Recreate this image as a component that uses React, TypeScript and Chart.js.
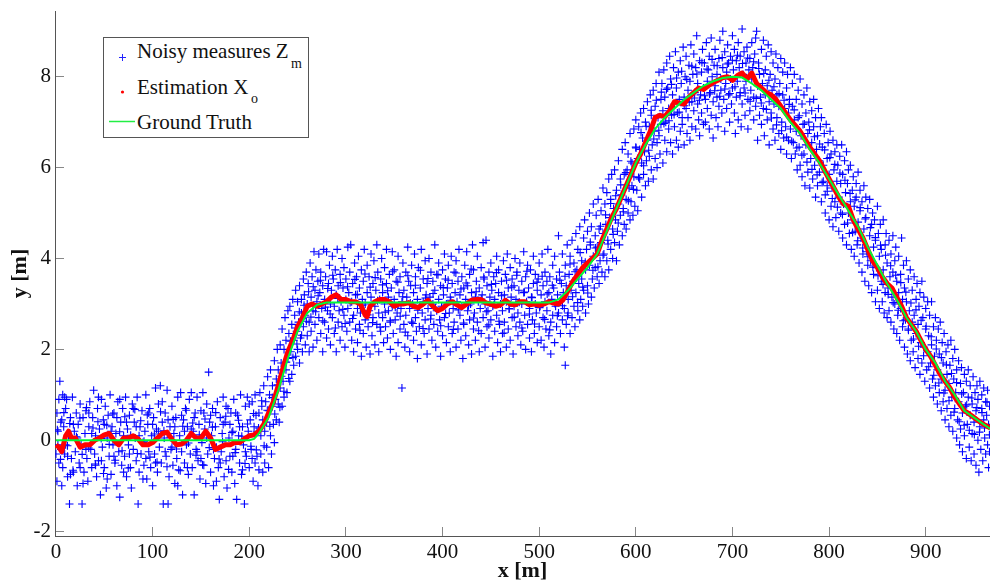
import React, { useEffect, useRef } from "react";
import { Chart, registerables } from "chart.js";

Chart.register(...registerables);

const xTicks = [0, 100, 200, 300, 400, 500, 600, 700, 800, 900];
const yTicks = [-2, 0, 2, 4, 6, 8];

const truthX = [0, 200, 205, 210, 220, 230, 240, 250, 260, 270, 280, 300, 400, 510, 520, 530, 540, 550, 560, 570, 580, 590, 600, 610, 620, 630, 640, 650, 660, 670, 680, 690, 700, 710, 720, 730, 740, 750, 760, 770, 780, 790, 800, 810, 820, 830, 840, 850, 860, 870, 880, 890, 900, 910, 920, 930, 940, 950, 960, 967];
const truthY = [0, 0, 0.03, 0.15, 0.5, 1.1, 1.8, 2.4, 2.8, 2.98, 3.03, 3.03, 3.03, 3.03, 3.1, 3.3, 3.55, 3.8, 4.1, 4.6, 5.1, 5.6, 6.1, 6.5, 6.85, 7.1, 7.3, 7.5, 7.65, 7.8, 7.9, 7.97, 8, 7.98, 7.85, 7.7, 7.5, 7.3, 7, 6.75, 6.4, 6.1, 5.75, 5.4, 5.05, 4.7, 4.25, 3.85, 3.45, 3.1, 2.7, 2.4, 2, 1.7, 1.3, 1, 0.65, 0.5, 0.35, 0.25];

// Estimation track as x,y pairs.
const estimatePairs = [0,-.1,3,-.15,6,-.25,10,.1,13,.2,16,.05,20,.05,25,-.15,30,-.1,35,-.1,40,0,45,.05,50,.12,55,.15,60,0,65,-.1,70,.05,75,.05,80,.1,85,.03,90,-.1,95,-.1,100,-.05,105,.05,110,.15,115,.18,120,.02,125,-.1,130,-.08,135,0,140,.15,145,.05,150,.05,155,.2,160,.05,165,-.2,170,-.15,175,-.1,180,-.1,185,-.05,190,-.05,195,.03,200,.1,205,.12,210,.2,215,.35,220,.6,225,.85,230,1.2,235,1.6,240,1.95,245,2.2,250,2.5,255,2.7,260,2.95,265,3,270,2.95,275,3,280,3.05,285,3.15,290,3.2,295,3.1,300,3.1,305,3.05,310,3.05,315,3,320,2.75,322,2.72,325,2.95,330,3.05,335,3.1,340,3.1,345,3.05,350,2.95,355,3,360,3,365,3.03,370,2.95,375,2.92,380,3,385,3.08,390,2.95,395,2.85,400,2.9,405,3,410,3.05,415,2.98,420,2.92,425,3,430,3.08,435,3.1,440,3.1,445,3.02,450,3,455,2.95,460,2.98,465,3.08,470,3,475,2.98,480,3.05,485,3.05,490,2.98,495,3,500,2.97,505,3,510,3.05,515,3.02,520,3,525,3.1,530,3.3,535,3.5,540,3.65,545,3.8,550,3.9,555,4,560,4.1,565,4.4,570,4.65,575,4.9,580,5.1,585,5.35,590,5.6,595,5.85,600,6.1,605,6.3,610,6.55,615,6.8,620,7.1,625,7.15,630,7.12,635,7.25,640,7.45,645,7.42,650,7.4,655,7.55,660,7.65,665,7.75,670,7.72,675,7.8,680,7.87,685,7.92,690,7.98,695,8,700,7.92,705,8.02,710,8.08,715,7.95,720,8.08,725,7.85,730,7.75,735,7.65,740,7.6,745,7.5,750,7.35,755,7.2,760,7.05,770,6.8,780,6.45,790,6.15,800,5.75,805,5.55,810,5.35,815,5.2,820,5.15,825,4.85,830,4.65,835,4.45,840,4.2,845,3.95,850,3.8,855,3.6,860,3.45,865,3.35,870,3.15,875,2.95,880,2.7,885,2.55,890,2.4,895,2.2,900,2,905,1.85,910,1.65,915,1.45,920,1.3,925,1.15,930,.95,935,.8,940,.65,945,.58,950,.5,955,.42,960,.35,967,.27];

const measuresFlatStart = [0,-.3,1,.6,1,-.9,2,.2,3,-.5,3,.9,4,1.3,5,-.2,5,.4,6,-1,7,1,7,-.6,8,.3,9,-.3,10,.7,10,-.1,11,.9,12,-.8,13,.1,14,-1.4,15,.5,16,-.4,17,.95,18,-.7,19,.2,20,-.25,21,.6,22,-1,23,.35,24,-.5,25,.8,26,-.1,27,-1.4,28,.5,29,-.7,30,.15,31,.65,32,-.4,33,-.9,34,.3,35,.85,36,-.2,37,-.6,38,.5,39,1.1,40,-.3,41,.1,42,-.8,43,.7,44,-.45,45,.25,46,-1.2,47,.9,48,-.15,49,.45,50,-.6,51,.75,52,-1.05,53,.05,54,.55,55,-.35,56,1,57,-.75,58,.3,59,-.1,60,.6,61,-.5,62,.15,63,-1,64,.85,65,-.25,66,-1.25,67,.4,68,-.55,69,.7,70,.1,71,-.35,72,.95,73,-.8,74,.25,75,-.1,76,.55,77,-.6,78,-1.05,79,.8,80,-.2,81,.4,82,.05,83,-.45,84,.95,85,-1.4,86,-.7,87,.3,88,-.3,89,.65,90,-.05,91,-.55,92,.2,93,1,94,-.85,95,.35,96,-.25,97,.7,98,-.6,99,.1,100,-1,101,.5,102,-.3,103,1.15,104,.25,105,-.7,106,.8,107,-.15,108,1.2,109,-.5,110,.4,111,-1.4,112,.05,113,.6,114,-.35,115,1.1,116,-1.4,117,-.8,118,.3,119,-.2,120,.75,121,-.55,122,.15,123,-.95,124,.5,125,-.4,126,.95,127,-.65,128,.1,129,1.05,130,-.25,131,-1.2,132,.45,133,-.5,134,.7,135,-.1,136,.3,137,-.75,138,.9,139,-.3,140,1.05,141,-.6,142,.2,143,-1.2,144,.6,145,-.2,146,.95,147,-.45,148,.35,149,-.85,150,.65,151,-.05,152,1.05,153,-.55,154,.25,155,-.95,156,.8,157,-.3,158,1.5,159,.4,160,-.7,161,.1,162,.7,163,-1,164,-.4,165,.3,166,-.15,167,.85,168,-.6,169,-1.3,170,.5,171,-.25,172,.15,173,.95,174,-.8,175,.4,176,-.45,177,-1.05,178,.7,179,.05,180,-.35,181,.6,182,-.7,183,.2,184,.9,185,-.95,186,-.2,187,-1.3,188,.55,189,.1,190,-.5,191,1,192,-.75,193,.3,194,-.1,195,-1.4,196,.75,197,-.35,198,.95,199,.2,200,-.6,201,.45,202,-.2,203,.85,204,-.9,205,.3,
  2,-.1,6,.45,9,.95,12,-.35,15,-.75,18,.35,22,.05,25,-.6,28,-.95,31,-.2,34,.6,37,.15,41,-.55,44,.95,47,-.45,50,.35,53,-.85,57,.2,60,-.35,63,.5,66,.9,70,-.7,73,.4,76,-.3,80,.7,83,.3,86,.1,90,-.85,93,-.4,96,.6,100,.35,103,-.5,106,.2,110,.85,113,-.25,116,.45,120,-.15,123,.3,126,-1,130,.55,133,.2,136,-.6,140,.25,143,.5,146,-.25,150,-.4,153,.6,156,.05,160,.55,163,-.2,166,-.9,170,-.5,173,.35,176,.75,180,.35,183,-.35,186,.6,190,.3,193,-.65,196,-.25,200,.8,203,-.4];

const measuresFirstRise = [206,-.5,206,1,207,.55,208,-.35,208,.2,209,-1,210,.6,210,-.65,211,1.05,212,.1,212,-.3,213,.75,214,-.7,214,.45,215,1.2,216,.2,216,-.5,217,.85,218,.4,218,-.15,219,1.4,220,.65,220,-.6,221,1,222,.1,222,1.55,223,-.3,224,.75,224,1.2,225,.35,226,1.75,226,-.05,227,.9,228,1.35,228,.45,229,2,230,.8,230,1.55,231,.4,232,1.15,232,2.1,233,1.7,234,.75,234,2.45,235,1.3,236,2,236,.95,237,2.7,238,1.55,238,2.2,239,1.05,240,2.85,240,1.8,241,2.35,242,1.3,242,2.95,243,1.95,244,2.55,244,1.45,245,3.1,246,2.2,246,1.65,247,2.75,248,3.3,248,1.85,249,2.4,250,3.05,250,2,251,2.6,252,3.4,252,1.7,253,2.25,254,3.1,254,2.8,255,1.95,256,3.55,256,2.5,257,3.2,258,2.1,258,2.75,259,3.7,260,3,260,2.3,261,3.45,262,1.95,262,2.6,263,3.9,264,3.15,264,2.4,265,3.6,266,2.85,266,2.05];

const measuresFlatMiddle = [267,4.15,268,3.3,268,2.55,269,3.75,270,2.2,270,3.05,271,3.5,272,2.7,272,4.1,273,3.25,274,2.35,274,3.7,275,2.9,276,3.4,276,1.95,277,4.2,278,2.6,278,3.1,279,3.6,280,2.25,280,4.15,281,2.85,282,3.45,282,2.45,283,3.85,284,3,284,2.1,285,3.3,286,4.05,286,2.7,287,3.55,288,2.35,288,2.95,289,3.75,290,1.95,290,3.2,291,4.2,292,2.6,292,3.4,293,2.85,294,3.65,294,2.2,295,3.05,296,4,296,2.5,297,3.35,298,2.75,298,3.8,299,2.05,300,3.1,300,3.55,301,2.4,302,4.25,302,2.9,303,3.25,304,2.6,304,3.7,305,4.3,306,2.2,306,3.05,307,3.45,308,2.75,308,1.95,309,3.9,310,2.45,310,3.2,311,3.6,312,2.9,312,2.15,313,4.05,314,3.35,314,2.55,315,2.8,316,3.75,316,1.85,317,3.1,318,2.35,318,3.5,319,4.2,320,2.65,320,3,321,2.05,322,3.85,322,3.25,323,2.5,324,3.6,324,2.85,325,1.9,326,4.1,326,3.15,327,2.3,328,3.45,328,2.7,329,3.95,330,2.95,330,2.1,331,3.3,332,4.3,332,2.55,333,3.7,334,2.8,334,1.95,335,3.1,336,3.55,336,2.4,337,4,338,2.7,338,3.25,339,2.15,340,3.8,340,3,341,2.5,342,3.45,342,4.2,343,2.25,344,3.15,344,2.85,345,3.65,346,2,346,2.6,347,3.35,348,4.15,348,2.95,349,2.35,350,3.75,350,3.1,351,2.65,352,1.85,352,3.5,353,2.8,354,4.05,354,2.15,355,3.25,356,3.6,356,2.45,357,2.9,358,1.15,358,3.05,359,3.9,360,2.55,360,3.3,361,2.05,362,3.7,362,2.75,363,3.15,364,4.25,364,2.3,365,3.5,366,2.9,366,1.95,367,3.4,368,2.6,368,3.85,369,3,370,2.2,370,3.25,371,4.1,372,2.7,372,3.6,373,2.4,374,3.1,374,1.8,375,3.8,376,2.95,376,2.5,377,3.35,378,4.2,378,2.1,379,2.8,380,3.55,380,3.05,381,2.35,382,3.95,382,2.65,383,3.2,384,1.9,384,3.45,385,2.9,386,4,386,2.45,387,3.15,388,3.7,388,2.75,389,2.2,390,3,390,3.5,391,2.55,392,4.3,392,3.3,393,2.05,394,2.85,394,3.65,395,2.4,396,3.1,396,3.9,397,2.65,398,1.85,398,3.4,399,2.95,400,3.75,400,2.3,401,3.2,402,4.1,402,2.7,403,3.55,404,2.15,404,3,405,3.35,406,2.5,406,3.85,407,2.8,408,1.95,408,3.15,409,4.05,410,3.45,410,2.35,411,2.9,412,3.7,412,2.6,413,3.25,414,2.05,414,3.95,415,3.05,416,2.45,416,3.5,417,4.2,418,2.75,418,3.2,419,2.2,420,3.6,420,2.95,421,1.8,422,3.35,422,2.55,423,3.85,424,3.1,424,2.3,425,4.15,426,2.85,426,3.4,427,2.1,428,3.65,428,2.65,429,3,430,1.9,430,3.25,431,4.3,432,2.45,432,3.75,433,2.8,434,3.15,434,2.2,435,3.5,436,4.05,436,2.6,437,3.05,438,1.95,438,3.35,439,2.9,440,3.8,440,2.35,441,3.2,442,4.35,442,2.7,443,3.55,444,2.05,444,3,445,4.4,446,3.4,446,2.5,447,2.85,448,3.7,448,2.25,449,3.15,450,3.9,450,2.65,451,3.3,452,1.85,452,2.95,453,3.6,454,2.4,454,3.1,455,3.45,456,2.75,456,4.05,457,2.15,458,3.25,458,3.75,459,2.55,460,3,460,1.95,461,3.5,462,2.85,462,2.35,463,3.95,464,3.2,464,2.6,465,3.65,466,2.05,466,3.05,467,4.1,468,2.45,468,3.35,469,2.9,470,3.8,470,2.2,471,3.15,472,2.7,472,3.55,473,1.9,474,3.4,474,2.95,475,4,476,2.5,476,3.1,477,3.7,478,2.3,478,2.8,479,3.3,480,3.9,480,2.6,481,2.1,482,3.5,482,3,483,2.4,484,3.25,484,4.15,485,2.75,486,3.6,486,2,487,3.05,488,2.55,488,3.85,489,3.35,490,2.25,490,2.9,491,3.75,492,3.15,492,1.95,493,2.65,494,3.45,494,4.05,495,2.35,496,3,496,3.65,497,2.8,498,2.15,498,3.3,499,3.55,500,2.5,500,3.9,501,2.95,502,2.2,502,3.2,503,4.1,504,2.7,504,3.4,505,2.05,506,3.7,506,3.05,507,2.45,508,3.5,508,2.85,509,4.2,510,2.3,510,3.25,511,3.6,512,2.6,512,1.9,513,3.1,514,3.85,514,2.75,515,3.35,516,2.15,516,4.05,517,2.95,518,3.55,518,2.5,519,3.2,520,4.5,520,2.8];

const measuresSecondRise = [521,3.7,522,2.35,522,3.05,523,3.45,524,2.65,524,4.1,525,3.25,526,2.05,526,2.9,527,1.65,527,3.85,528,3.4,528,2.55,529,4.3,530,3.1,530,2.8,531,3.65,532,2.35,532,4.05,533,3.3,534,2.7,534,4.4,535,3.5,536,2.95,536,3.9,537,2.5,538,4.55,538,3.25,539,3.75,540,2.85,540,4.2,541,3.45,542,2.65,542,4.7,543,3.1,544,3.95,544,3.55,545,2.95,546,4.45,546,3.3,547,4.85,548,3.75,548,2.8,549,4.2,550,3.4,550,4.6,551,3,552,5,552,3.85,553,4.3,554,3.15,554,4.7,555,3.55,556,4.05,556,5.2,557,3.35,558,4.5,558,3.8,559,4.95,560,3.6,560,4.25,561,5.3,562,3.45,562,4.65,563,3.95,564,5.05,564,4.35,565,3.7,566,5.55,566,4.55,567,4.1,568,3.6,568,5.2,569,4.75,570,3.95,570,5.45,571,4.4,572,5.75,572,3.75,573,4.9,574,4.2,574,5.3,575,5.85,576,4,576,4.65,577,5.1,578,4.35,578,5.95,579,4.85,580,3.95,580,5.5,581,4.6,582,6.15,582,5.2,583,4.3,584,5.75,584,4.95,585,5.4,586,6.4,586,4.5,587,5.1,588,5.85,588,4.75,589,6.55,590,5.3,590,4.65,591,5.95,592,5,592,6.3,593,5.55,594,4.85,594,6.75,595,5.25,596,6.1,596,5.6,597,4.95,598,6.85,598,5.8,599,5.15,600,6.45,600,7.05,601,5.5,602,6.2,602,5.05,603,6.9,604,5.75,604,6.4,605,7.2,606,5.35,606,6.1,607,6.65,608,5.85,608,7.3,609,6.35,610,5.6,610,7,611,6.15,612,7.45,612,6.6,613,5.7,614,6.9,614,6.25,615,7.6,616,5.95,616,7.15,617,6.5,618,5.75,618,7.7,619,6.8,620,6.2,620,7.35,621,7.85,622,6.55,622,6,623,7.1,624,8.1,624,6.7,625,6.3,626,7.5,626,6.95,627,7.85,628,6.1,628,7.25,629,8.15,630,6.6,630,7.55,631,7,632,8.3,632,6.35,633,7.75,634,6.85,634,7.3,635,8.45,636,6.55,636,7.95,637,7.15,638,7.6,638,6.3,639,8.2,640,6.9,640,7.4,641,8.55,642,6.6,642,7.75,643,7.2,644,8.1,644,6.45,645,7.5,646,8.35,646,6.8,647,7.85,648,7.1,648,6.95,649,8.65,650,7.55,650,6.5,651,8,652,7.3,652,8.45,653,6.75,654,7.7,654,7.1,655,8.25,656,6.6,656,7.9,657,8.7,658,7.45,658,6.9,659,8.05,660,7.25,660,8.5,661,7.65,662,6.85,662,8.2,663,8.9,664,7.4,664,7.85,665,7.05,666,8.35,666,6.7,667,7.6,668,8.1,668,7.2,669,8.6,670,7.75,670,6.95,671,8.3,672,7.5,672,7,673,8.75,674,7.9,674,7.3,675,8.15,676,6.85,676,8.45,677,7.65,678,8.85,678,7.15,679,8,680,7.45,680,6.65,681,8.25,682,7.8,682,8.6,683,7.1,684,7.55,684,8.05,685,6.9,686,8.4,686,7.35,687,8.8,688,7.7,688,7.95,689,7.2,690,9,690,8.2,691,7.5,692,8.55,692,6.8,693,7.85,694,8.1,694,7.3,695,8.7,696,7.6,696,8.3,697,7,698,7.95,698,8.45,699,7.4,700,8.9,700,7.75,701,8.15,702,7.2,702,8.6,703,6.75,704,8.35,704,7.55,705,7.9,706,8.75,706,7.05,707,8.2,708,7.65,708,8.45,709,6.9,710,9.05,710,7.4,711,8.05,712,8.55,712,7.75,713,7.15,714,8.3,714,7.9,715,8.65,716,7.5,716,6.85,717,8.15,718,7.25,718,8.4,719,7.7,720,8.75,720,7.95];

const measuresFall = [721,8.2,722,7.05,722,7.55,723,8.5,724,7.35,724,8.85,725,9,726,7.8,726,6.6,727,8.3,728,7.15,728,8.05,729,7.55,730,8.6,730,6.95,731,7.85,732,8.8,732,7.3,733,6.7,734,8.15,734,7.6,735,8.45,736,7.05,736,7.8,737,8.7,738,6.5,738,7.45,739,8.05,740,7.2,740,8.55,741,7.7,742,6.85,742,8.3,743,7.4,744,7.95,744,6.6,745,8.5,746,7.1,746,7.6,747,8.2,748,6.75,748,7.35,749,7.85,750,6.4,750,8.4,751,7,752,7.6,752,8.1,753,6.65,754,7.3,754,8.3,755,6.9,756,7.75,756,6.3,757,8.05,758,7.2,758,6.6,759,7.5,760,8.2,760,6.85,761,6.2,762,7.35,762,7.85,763,6.55,764,7.05,764,8.05,765,6.3,766,7.5,766,6.8,767,5.95,768,7.7,768,7.1,769,6.45,770,7.95,770,6.05,771,6.7,772,7.4,772,5.8,773,6.95,774,7.6,774,6.3,775,5.6,776,7.2,776,6.5,777,7.75,778,5.9,778,6.75,779,7,780,7.45,780,5.55,781,6.2,782,7.25,782,6.55,783,5.75,784,6.9,784,7.5,785,6.05,786,5.35,786,7.1,787,6.4,788,6.7,788,5.6,789,7.3,790,5.9,790,6.15,791,6.9,792,5.25,792,7.1,793,6.45,794,5.7,794,6.05,795,6.75,796,5,796,5.4,797,6.95,798,6.2,798,5.6,799,6.55,800,4.85,800,5.85,801,6.8,802,5.15,802,6.3,803,5.55,804,6.6,804,4.7,805,5.95,806,6.35,806,5.25,807,4.9,808,6.5,808,5.7,809,6.05,810,4.6,810,5.35,811,6.25,812,5,812,5.65,813,6.5,814,4.45,814,5.85,815,5.2,816,6.15,816,4.75,817,5.45,818,6.35,818,4.3,819,5.65,820,5,820,5.95,821,4.55,822,6.05,822,5.25,823,4.2,824,5.5,824,4.85,825,5.8,826,4.05,826,5.15,827,4.6,828,5.65,828,5.35,829,4.3,830,5.9,830,4.8,831,3.9,832,5.05,832,5.5,833,4.45,834,3.7,834,5.25,835,4.1,836,5.6,836,4.65,837,3.5,838,4.9,838,5.35,839,4.15,840,3.85,840,5.1,841,3.4,842,4.5,842,5.3,843,3.95,844,4.75,844,3.25,845,5,846,4.25,846,3.65,847,4.85,848,3.05,848,4.4,849,3.8,850,5.15,850,3.3,851,4.55,852,4.05,852,2.9,853,4.75,854,3.5,854,4.2,855,3.05,856,4.85,856,3.75,857,2.8,858,4.3,858,3.25,859,4.55,860,2.7,860,3.9,861,3.35,862,4.4,862,2.85,863,3.6,864,4.1,864,2.6,865,3.15,866,4.5,866,3.7,867,2.45,868,3.95,868,3,869,4.25,870,2.35,870,3.5,871,2.75,872,4.05,872,3.25,873,2.2,874,3.65,874,2.9,875,4.45,876,2.5,876,3.1,877,3.85,878,2.05,878,3.35,879,2.65,880,3.95,880,3.05,881,1.9,882,2.45,882,3.55,883,2.85,884,3.75,884,1.75,885,2.2,886,3.3,886,2.6,887,1.95,888,3.6,888,2.75,889,1.6,890,3.1,890,2.35,891,3.45,892,1.8,892,2.55,893,2.95,894,1.45,894,3.25,895,2.15,896,3.5,896,1.7,897,2.7,898,2.05,898,3.15,899,1.3,900,2.45,900,2.9,901,1.55,902,3.05,902,1.95,903,2.3,904,1.15,904,2.75,905,1.7,906,3.05,906,2.1,907,1.35,908,2.5,908,.95,909,1.85,910,2.7,910,1.2,911,2.2,912,.8,912,1.55,913,2.45,914,1.05,914,1.9,915,2.6,916,.65,916,1.35,917,2.15,918,1.7,918,.85,919,2.35,920,1.1,920,.45,921,1.95,922,1.45,922,.7,923,2.1,924,.3,924,1.25,925,1.65,926,2.2,926,.55,927,.95,928,1.8,928,.2,929,1.35,930,.7,930,2,931,1.05,932,.05,932,1.55,933,.45,934,1.75,934,.85,935,-.1,936,1.25,936,.25,937,1.6,938,.6,938,-.25,939,1.05,940,1.45,940,.1,941,.75,942,-.4,942,1.3,943,.35,944,.95,944,1.55,945,-.15,946,.55,946,1.2,947,-.45,948,.8,948,.15,949,1.4,950,-.3,950,.4,951,1.05,952,-.55,952,.65,953,1.2,954,0,954,.9,955,-.7,956,.3,956,1.3,957,-.2,958,.7,958,1,959,-.45,960,.45,960,1.15,961,.05,962,.85,962,-.3,963,.55,964,1.1,964,-.1,965,-.6,965,.35,966,.75,966,-.25];

// Extra measures around the track, where the cloud is densest.
const measuresCoreFlat = [1.4,.23,4.7,-.42,8.2,.61,11.9,-.12,14.3,.37,17.6,-.66,21.2,.08,24.8,.49,27.1,-.31,31.6,.72,33.9,-.17,38.3,.27,40.7,-.52,43.4,.41,46.8,.04,49.2,-.73,52.6,.33,55.1,-.09,58.7,.58,61.3,-.44,65.9,.19,68.4,-.23,71.2,.52,74.8,-.61,77.3,.11,81.6,.68,84.2,-.29,87.7,.43,91.1,-.02,94.5,.56,97.3,-.37,101.8,.14,104.6,-.48,108.2,.63,111.7,.21,114.9,-.58,118.4,.07,121.3,.46,124.7,-.19,128.6,-.67,131.2,.31,134.8,.66,137.1,-.06,141.5,.38,144.9,-.33,148.3,.12,151.7,-.54,154.2,.47,158.6,-.16,161.9,.29,165.3,.61,168.8,-.41,172.4,-.03,175.7,.53,178.6,-.64,182.1,.17,185.4,-.27,188.9,.44,192.3,.09,195.6,-.51,198.2,.36,201.7,-.13,204.5,.59,207.3,-.21,209.6,.27,212.8,.87,215.4,-.12,218.7,.66,221.3,.31,223.8,.94,226.4,.58,229.2,1.22,231.7,.73,233.4,1.41,235.9,1.08,238.3,1.72,240.8,1.36,242.6,2.18,245.2,1.82,247.7,2.47,249.3,2.12,251.8,2.83,254.2,2.31,256.7,2.97,259.1,2.62,261.4,3.27,263.8,2.71,266.2,3.38,268.7,2.83,271.3,3.18,273.6,3.52,276.1,2.63,278.8,2.93,281.2,3.34,283.7,2.78,286.4,3.63,289.1,2.47,291.6,3.12,294.3,3.47,296.8,2.88,299.2,2.57,301.7,3.38,304.4,3.03,306.9,2.68,309.3,3.54,311.8,3.21,314.6,2.42,317.2,2.97,319.7,3.66,322.4,2.76,325.1,3.37,327.6,2.59,330.3,3.58,332.8,3.07,335.4,2.49,337.9,3.42,340.7,2.82,343.2,3.29,345.8,2.63,348.4,3.71,351.1,2.93,353.7,3.48,356.2,2.73,358.8,3.16,361.4,2.38,364.1,3.62,366.7,3.02,369.3,2.57,371.9,3.41,374.4,2.86,377.1,3.74,379.8,2.46,382.3,3.13,384.9,3.56,387.6,2.67,390.2,3.23,392.7,2.91,395.3,3.64,398.1,2.52,400.7,3.36,403.2,2.79,405.8,3.52,408.6,3.08,411.2,2.44,413.8,3.68,416.3,2.87,419.1,3.33,421.7,2.58,424.4,3.46,426.9,2.96,429.6,3.77,432.2,2.69,434.8,3.27,437.4,2.41,440.1,3.11,442.7,3.59,445.3,2.83,447.9,2.54,450.6,3.43,453.2,2.98,455.8,3.69,458.4,2.62,461.1,3.18,463.7,2.36,466.3,3.52,468.9,2.89,471.6,3.37,474.2,2.71,476.8,3.63,479.4,3.04,482.1,2.47,484.7,3.26,487.3,3.72,489.9,2.78,492.6,3.14,495.2,2.56,497.8,3.48,500.4,2.92,503.1,3.61,505.7,2.66,508.3,3.22,510.9,2.43,513.6,3.41,516.2,3.01,518.8,2.74];

const measuresCoreRise = [521.4,3.52,524.1,2.96,526.7,3.61,529.3,2.74,531.9,3.88,534.6,3.16,537.2,3.71,539.8,3.03,542.4,4.13,545.1,3.37,547.7,3.92,550.3,3.24,552.9,4.36,555.6,3.74,558.2,4.23,560.8,3.82,563.4,4.71,566.1,4.07,568.7,4.96,571.3,4.32,573.9,5.21,576.6,4.53,579.2,5.38,581.8,4.78,584.4,5.62,587.1,5.03,589.7,5.89,592.3,5.27,594.9,6.14,597.6,5.52,600.2,6.43,602.8,5.78,605.4,6.77,608.1,6.04,610.7,6.91,613.3,6.38,615.9,7.26,618.6,6.63,621.2,7.48,623.8,6.82,626.4,7.66,629.1,6.97,631.7,7.72,634.3,7.03,636.9,7.83,639.6,7.17,642.2,7.97,644.8,7.22,647.4,8.12,650.1,7.36,652.7,7.94,655.3,7.44,657.9,8.23,660.6,7.53,663.2,8.06,665.8,7.48,668.4,8.31,671.1,7.58,673.7,8.17,676.3,7.62,678.9,8.38,681.6,7.69,684.2,8.24,686.8,7.57,689.4,8.42,692.1,7.73,694.7,8.28,697.3,7.63,699.9,8.36,702.6,7.78,705.2,8.47,707.8,7.58,710.4,8.29,713.1,7.64,715.7,8.41,718.3,7.46];

const measuresCoreFall = [721.9,8.33,724.6,7.52,727.2,8.18,729.8,7.42,732.4,8.07,735.1,7.28,737.7,7.92,740.3,7.09,742.9,7.78,745.6,6.94,748.2,7.63,750.8,6.81,753.4,7.48,756.1,6.67,758.7,7.39,761.3,6.58,763.9,7.27,766.6,6.43,769.2,7.14,771.8,6.27,774.4,6.96,777.1,6.12,779.7,6.83,782.3,5.96,784.9,6.68,787.6,5.84,790.2,6.52,792.8,5.67,795.4,6.39,798.1,5.48,800.7,6.22,803.3,5.32,805.9,6.07,808.6,5.13,811.2,5.88,813.8,4.97,816.4,5.72,819.1,4.78,821.7,5.43,824.3,4.57,826.9,5.29,829.6,4.39,832.2,5.12,834.8,4.23,837.4,4.87,840.1,4.04,842.7,4.68,845.3,3.81,847.9,4.46,850.6,3.62,853.2,4.29,855.8,3.43,858.4,4.07,861.1,3.21,863.7,3.84,866.3,3.03,868.9,3.63,871.6,2.86,874.2,3.47,876.8,2.63,879.4,3.26,882.1,2.42,884.7,3.02,887.3,2.23,889.9,2.87,892.6,2.07,895.2,2.64,897.8,1.86,900.4,2.51,903.1,1.62,905.7,2.28,908.3,1.43,910.9,2.01,913.6,1.26,916.2,1.82,918.8,1.04,921.4,1.66,924.1,.87,926.7,1.47,929.3,.62,931.9,1.27,934.6,.41,937.2,1.02,939.8,.33,942.4,.78,945.1,.22,947.7,.93,950.3,.13,952.9,.72,955.6,.18,958.2,.61,960.8,.27,963.4,.84,965.9,.12];

const toPoints = (list: number[]) => list.flatMap((v, i) => (i % 2 === 0 ? [{ x: v, y: list[i + 1] }] : []));
const noisyMeasures = [measuresFlatStart, measuresFirstRise, measuresFlatMiddle, measuresSecondRise, measuresFall, measuresCoreFlat, measuresCoreRise, measuresCoreFall].flatMap(toPoints);

const pairUp = (xs: number[], ys: number[]) => xs.map((x, i) => ({ x, y: ys[i] }));

const serif = "'Liberation Serif', 'Times New Roman', serif";
const inkColor = "#111111";

const legendText = (text: string, left: number, baseline: number, size: number) => (
  <span style={{ position: "absolute", left, top: baseline - size * 0.966, fontSize: size, lineHeight: 1.15, whiteSpace: "nowrap", color: inkColor, fontFamily: serif }}>{text}</span>
);

export default function App() {
  const ref = useRef<HTMLCanvasElement>(null);
  useEffect(() => {
    const chart = new Chart(ref.current!, {
      type: "scatter",
      data: {
        datasets: [
          { label: "Ground Truth", data: pairUp(truthX, truthY), showLine: true, borderColor: "#00f838", borderWidth: 2, pointRadius: 0, order: 0 },
          { label: "Estimation", data: toPoints(estimatePairs), showLine: true, borderColor: "#ff0000", borderWidth: 5, pointRadius: 0, borderJoinStyle: "round", order: 1 },
          { label: "Noisy measures", data: noisyMeasures, pointStyle: "cross", pointRadius: 4, pointBorderWidth: 1.1, pointBorderColor: "#0000ff", pointBackgroundColor: "#0000ff", order: 2 },
        ],
      } as any,
      options: {
        responsive: false,
        animation: false,
        layout: { autoPadding: false, padding: { top: 11, left: 0, right: 0, bottom: 0 } },
        plugins: { legend: { display: false }, tooltip: { enabled: false } },
        scales: {
          x: {
            type: "linear",
            min: -1,
            max: 966.5,
            afterBuildTicks: (s: any) => { s.ticks = xTicks.map((value) => ({ value })); },
            afterFit: (s: any) => { s.height = 49; s.paddingLeft = 0; s.paddingRight = 0; },
            grid: { drawOnChartArea: false, tickLength: -9, tickColor: "#888888", tickWidth: 1 },
            border: { color: "#555555", width: 1 },
            ticks: { color: inkColor, padding: 13, maxRotation: 0, font: { family: serif, size: 21 } },
            title: { display: true, text: "x [m]", color: inkColor, padding: 0, font: { family: serif, size: 22, weight: "bold" } },
          },
          y: {
            type: "linear",
            min: -2.105,
            max: 9.445,
            afterBuildTicks: (s: any) => { s.ticks = yTicks.map((value) => ({ value })); },
            afterFit: (s: any) => { s.width = 55; s.paddingTop = 0; s.paddingBottom = 0; },
            grid: { drawOnChartArea: false, tickLength: -9, tickColor: "#888888", tickWidth: 1 },
            border: { color: "#555555", width: 1 },
            ticks: { color: inkColor, padding: 13, font: { family: serif, size: 21 } },
            title: { display: true, text: "y [m]", color: inkColor, padding: { top: 7, bottom: 0 }, font: { family: serif, size: 22, weight: "bold" } },
          },
        },
      } as any,
    });
    return () => chart.destroy();
  }, []);
  return (
    <div style={{ position: "absolute", left: 0, top: 0, width: 990, height: 585, overflow: "hidden", background: "#fff" }}>
      <canvas ref={ref} width={990} height={585} style={{ display: "block" }} />
      <div style={{ position: "absolute", left: 103, top: 37, width: 204, height: 99, border: "1px solid #555", background: "#fff", boxSizing: "content-box", overflow: "visible" }}>
        <svg width={204} height={99} style={{ position: "absolute", left: 0, top: 0 }}>
          <path d="M15 19.5h7M18.5 16v7" stroke="#2222ff" strokeWidth={1} fill="none" />
          <circle cx={18.5} cy={54} r={1.6} fill="#ff0000" />
          <line x1={5} x2={31} y1={83.5} y2={83.5} stroke="#22ee44" strokeWidth={1.5} />
        </svg>
        {legendText("Noisy measures Z", 33, 21, 21)}
        {legendText("m", 187, 32, 14)}
        {legendText("Estimation X", 33, 57, 21)}
        {legendText("o", 147, 67, 14)}
        {legendText("Ground Truth", 33, 92, 21)}
      </div>
    </div>
  );
}
